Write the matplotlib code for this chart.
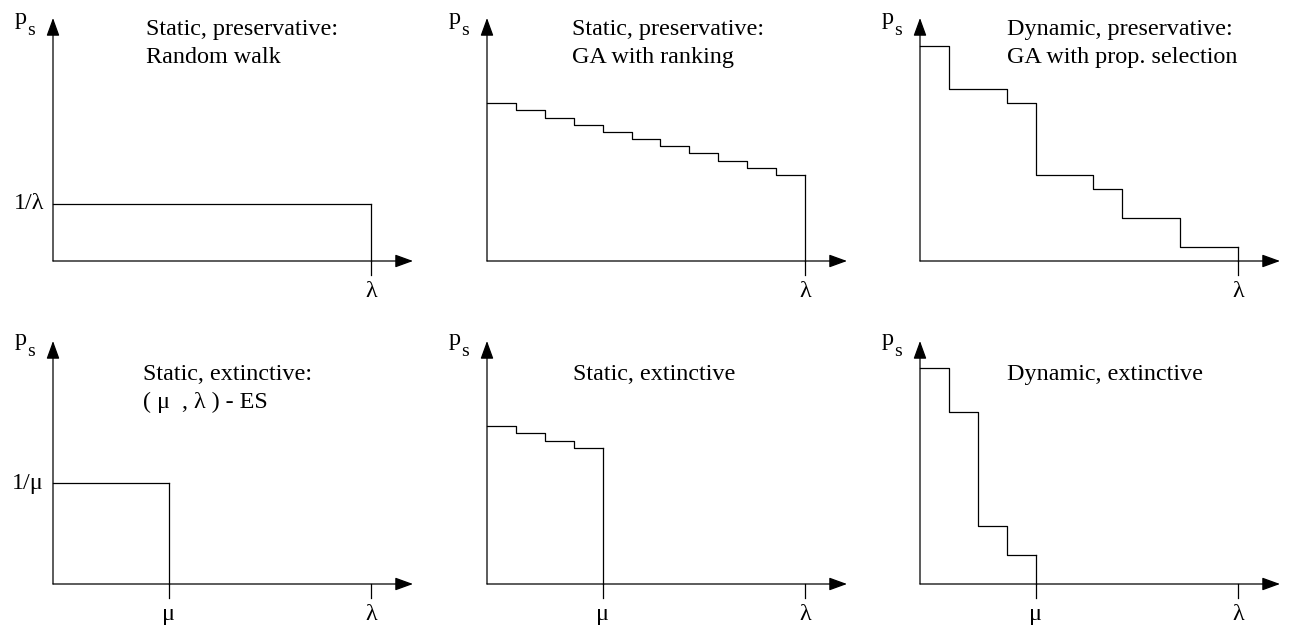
import matplotlib
matplotlib.use("Agg")
import matplotlib.pyplot as plt

plt.rcParams['font.family'] = ['Liberation Serif', 'DejaVu Serif']

# selection probability per rank (lambda = 11 ranks, mu = 4)
titles = [
    ["Static, preservative:", "Random walk"],
    ["Static, preservative:", "GA with ranking"],
    ["Dynamic, preservative:", "GA with prop. selection"],
    ["Static, extinctive:", "( \u03bc  , \u03bb ) - ES"],
    ["Static, extinctive"],
    ["Dynamic, extinctive"],
]
edges = [
    [0, 11],
    [0, 1, 2, 3, 4, 5, 6, 7, 8, 9, 10, 11],
    [0, 1, 3, 4, 6, 7, 9, 11],
    [0, 4],
    [0, 1, 2, 3, 4],
    [0, 1, 2, 3, 4],
]
levels = [
    [23.5],
    [64.9, 62.0, 59.0, 56.1, 53.1, 50.2, 47.2, 44.3, 41.3, 38.4, 35.4],
    [88.6, 70.8, 64.9, 35.5, 29.6, 17.7, 5.8],
    [41.4],
    [64.9, 62.0, 59.0, 56.1],
    [88.8, 70.9, 23.7, 12.1],
]
xticks = [
    {11: "\u03bb"},
    {11: "\u03bb"},
    {11: "\u03bb"},
    {4: "\u03bc", 11: "\u03bb"},
    {4: "\u03bc", 11: "\u03bb"},
    {4: "\u03bc", 11: "\u03bb"},
]
yticks = [{23.5: "1/\u03bb"}, {}, {}, {41.4: "1/\u03bc"}, {}, {}]

W, H = 1295, 628
fig = plt.figure(figsize=(W / 100, H / 100), dpi=100)

origins = [(53, 261), (487, 261), (920, 261), (53, 584), (487, 584), (920, 584)]
title_dx = [93, 85, 87, 90, 86, 87]
AW, AH = 360, 243
XMAX = 11 * AW / 318
TICK = 14 / AH * 100
FS = 17.4
LW = 0.9


def px(x, y):
    return x / W, 1 - y / H


for i in range(6):
    x0, y0 = origins[i]
    ax = fig.add_axes([x0 / W, (H - y0) / H, AW / W, AH / H])
    ax.set_xlim(0, XMAX)
    ax.set_ylim(0, 100)
    ax.axis('off')

    # axes with arrow heads
    arw = dict(arrowstyle='-|>,head_length=0.55,head_width=0.2', color='k',
               lw=LW, shrinkA=0, shrinkB=0, mutation_scale=20)
    ax.annotate('', xy=(XMAX, 0), xytext=(0, 0), arrowprops=arw, annotation_clip=False)
    ax.annotate('', xy=(0, 100), xytext=(0, 0), arrowprops=arw, annotation_clip=False)

    e = edges[i]
    lv = levels[i]
    ax.step(e, lv + [lv[-1]], where='post', color='k', lw=LW, clip_on=False)
    ax.plot([e[-1], e[-1]], [lv[-1], 0], color='k', lw=LW, clip_on=False)

    for xv, lab in xticks[i].items():
        ax.plot([xv, xv], [0, -TICK], color='k', lw=LW, clip_on=False)
        ax.annotate(lab, xy=(xv, 0), xytext=(0, -20), textcoords='offset pixels',
                    ha='center', va='top', fontsize=FS, annotation_clip=False)
    for yv, lab in yticks[i].items():
        ax.annotate(lab, xy=(0, yv), xytext=(-9, 0), textcoords='offset pixels',
                    ha='right', va='center', fontsize=FS, annotation_clip=False)

    # p_s axis label
    top = i < 3
    pb = 237 if top else 239
    fig.text(*px(x0 - 38, y0 - pb), 'p', fontsize=FS, ha='left', va='baseline')
    fig.text(*px(x0 - 26, y0 - pb + 11), 's', fontsize=14, ha='left', va='baseline')

    base = 226 if top else 204
    for k, line in enumerate(titles[i]):
        fig.text(*px(x0 + title_dx[i], y0 - base + 28 * k), line,
                 fontsize=FS, ha='left', va='baseline')

fig.savefig('out.png', dpi=100)
